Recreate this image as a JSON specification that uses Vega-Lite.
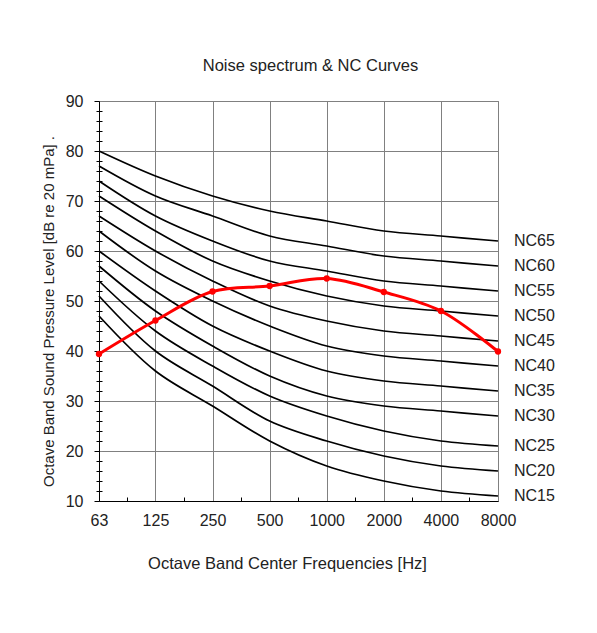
{
  "$schema": "https://vega.github.io/schema/vega-lite/v6.json",
  "width": 399,
  "height": 400,
  "autosize": {"type": "none"},
  "padding": {"left": 99, "top": 101, "right": 99, "bottom": 132},
  "background": "white",
  "config": {
    "font": "Liberation Sans",
    "view": {"stroke": "#808080", "strokeWidth": 1},
    "axis": {
      "labelFont": "Liberation Sans",
      "titleFont": "Liberation Sans",
      "labelColor": "#222222",
      "titleColor": "#222222",
      "labelFontSize": 16,
      "titleFontSize": 16.5,
      "titleFontWeight": "normal",
      "domainColor": "#000000",
      "domainWidth": 1,
      "tickColor": "#000000",
      "gridColor": "#808080",
      "gridOpacity": 1,
      "gridWidth": 1
    }
  },
  "title": {
    "text": "Noise spectrum & NC Curves",
    "font": "Liberation Sans",
    "fontSize": 16.5,
    "fontWeight": "normal",
    "color": "#222222",
    "anchor": "middle",
    "dx": 12,
    "baseline": "alphabetic",
    "offset": 6
  },
  "datasets": {
    "nc": [
      {"curve": "NC15", "freq": 63, "db": 47}, {"curve": "NC15", "freq": 125, "db": 36}, {"curve": "NC15", "freq": 250, "db": 29}, {"curve": "NC15", "freq": 500, "db": 22}, {"curve": "NC15", "freq": 1000, "db": 17}, {"curve": "NC15", "freq": 2000, "db": 14}, {"curve": "NC15", "freq": 4000, "db": 12}, {"curve": "NC15", "freq": 8000, "db": 11},
      {"curve": "NC20", "freq": 63, "db": 51}, {"curve": "NC20", "freq": 125, "db": 40}, {"curve": "NC20", "freq": 250, "db": 33}, {"curve": "NC20", "freq": 500, "db": 26}, {"curve": "NC20", "freq": 1000, "db": 22}, {"curve": "NC20", "freq": 2000, "db": 19}, {"curve": "NC20", "freq": 4000, "db": 17}, {"curve": "NC20", "freq": 8000, "db": 16},
      {"curve": "NC25", "freq": 63, "db": 54}, {"curve": "NC25", "freq": 125, "db": 44}, {"curve": "NC25", "freq": 250, "db": 37}, {"curve": "NC25", "freq": 500, "db": 31}, {"curve": "NC25", "freq": 1000, "db": 27}, {"curve": "NC25", "freq": 2000, "db": 24}, {"curve": "NC25", "freq": 4000, "db": 22}, {"curve": "NC25", "freq": 8000, "db": 21},
      {"curve": "NC30", "freq": 63, "db": 57}, {"curve": "NC30", "freq": 125, "db": 48}, {"curve": "NC30", "freq": 250, "db": 41}, {"curve": "NC30", "freq": 500, "db": 35}, {"curve": "NC30", "freq": 1000, "db": 31}, {"curve": "NC30", "freq": 2000, "db": 29}, {"curve": "NC30", "freq": 4000, "db": 28}, {"curve": "NC30", "freq": 8000, "db": 27},
      {"curve": "NC35", "freq": 63, "db": 60}, {"curve": "NC35", "freq": 125, "db": 52}, {"curve": "NC35", "freq": 250, "db": 45}, {"curve": "NC35", "freq": 500, "db": 40}, {"curve": "NC35", "freq": 1000, "db": 36}, {"curve": "NC35", "freq": 2000, "db": 34}, {"curve": "NC35", "freq": 4000, "db": 33}, {"curve": "NC35", "freq": 8000, "db": 32},
      {"curve": "NC40", "freq": 63, "db": 64}, {"curve": "NC40", "freq": 125, "db": 56}, {"curve": "NC40", "freq": 250, "db": 50}, {"curve": "NC40", "freq": 500, "db": 45}, {"curve": "NC40", "freq": 1000, "db": 41}, {"curve": "NC40", "freq": 2000, "db": 39}, {"curve": "NC40", "freq": 4000, "db": 38}, {"curve": "NC40", "freq": 8000, "db": 37},
      {"curve": "NC45", "freq": 63, "db": 67}, {"curve": "NC45", "freq": 125, "db": 60}, {"curve": "NC45", "freq": 250, "db": 54}, {"curve": "NC45", "freq": 500, "db": 49}, {"curve": "NC45", "freq": 1000, "db": 46}, {"curve": "NC45", "freq": 2000, "db": 44}, {"curve": "NC45", "freq": 4000, "db": 43}, {"curve": "NC45", "freq": 8000, "db": 42},
      {"curve": "NC50", "freq": 63, "db": 71}, {"curve": "NC50", "freq": 125, "db": 64}, {"curve": "NC50", "freq": 250, "db": 58}, {"curve": "NC50", "freq": 500, "db": 54}, {"curve": "NC50", "freq": 1000, "db": 51}, {"curve": "NC50", "freq": 2000, "db": 49}, {"curve": "NC50", "freq": 4000, "db": 48}, {"curve": "NC50", "freq": 8000, "db": 47},
      {"curve": "NC55", "freq": 63, "db": 74}, {"curve": "NC55", "freq": 125, "db": 67}, {"curve": "NC55", "freq": 250, "db": 62}, {"curve": "NC55", "freq": 500, "db": 58}, {"curve": "NC55", "freq": 1000, "db": 56}, {"curve": "NC55", "freq": 2000, "db": 54}, {"curve": "NC55", "freq": 4000, "db": 53}, {"curve": "NC55", "freq": 8000, "db": 52},
      {"curve": "NC60", "freq": 63, "db": 77}, {"curve": "NC60", "freq": 125, "db": 71}, {"curve": "NC60", "freq": 250, "db": 67}, {"curve": "NC60", "freq": 500, "db": 63}, {"curve": "NC60", "freq": 1000, "db": 61}, {"curve": "NC60", "freq": 2000, "db": 59}, {"curve": "NC60", "freq": 4000, "db": 58}, {"curve": "NC60", "freq": 8000, "db": 57},
      {"curve": "NC65", "freq": 63, "db": 80}, {"curve": "NC65", "freq": 125, "db": 75}, {"curve": "NC65", "freq": 250, "db": 71}, {"curve": "NC65", "freq": 500, "db": 68}, {"curve": "NC65", "freq": 1000, "db": 66}, {"curve": "NC65", "freq": 2000, "db": 64}, {"curve": "NC65", "freq": 4000, "db": 63}, {"curve": "NC65", "freq": 8000, "db": 62}
    ],
    "spectrum": [
      {"freq": 63, "db": 39.4},
      {"freq": 125, "db": 46.1},
      {"freq": 250, "db": 51.9},
      {"freq": 500, "db": 53.0},
      {"freq": 1000, "db": 54.5},
      {"freq": 2000, "db": 51.8},
      {"freq": 4000, "db": 48.0},
      {"freq": 8000, "db": 39.9}
    ]
  },
  "layer": [
    {
      "data": {"name": "nc"},
      "mark": {"type": "line", "interpolate": "catmull-rom", "color": "#000000", "strokeWidth": 1.7},
      "encoding": {
        "x": {
          "field": "freq", "type": "quantitative",
          "scale": {"type": "log", "domain": [63, 8000], "nice": false},
          "axis": {
            "orient": "bottom",
            "values": [63, 125, 250, 500, 1000, 2000, 4000, 8000],
            "format": "d",
            "grid": true,
            "ticks": false,
            "labelPadding": 11,
            "labelFlush": false,
            "labelOverlap": false,
            "title": "Octave Band Center Frequencies [Hz]",
            "titleX": 188,
            "titleY": 67,
            "titleAlign": "center",
            "titleBaseline": "alphabetic"
          }
        },
        "y": {
          "field": "db", "type": "quantitative",
          "scale": {"domain": [10, 90], "nice": false, "zero": false},
          "axis": {
            "orient": "left",
            "values": [10, 20, 30, 40, 50, 60, 70, 80, 90],
            "grid": true,
            "tickSize": 5,
            "labelPadding": 11,
            "labelFlush": false,
            "labelOverlap": false,
            "title": "Octave Band Sound Pressure Level [dB re 20 mPa] .",
            "titleFontSize": 15,
            "titleAngle": -90,
            "titleX": -46,
            "titleY": 210,
            "titleAlign": "center",
            "titleBaseline": "alphabetic"
          }
        },
        "detail": {"field": "curve", "type": "nominal"}
      }
    },
    {
      "data": {"name": "nc"},
      "transform": [{"filter": "datum.freq == 8000"}],
      "mark": {"type": "text", "align": "left", "baseline": "middle", "dx": 16, "fontSize": 16, "font": "Liberation Sans", "color": "#222222"},
      "encoding": {
        "x": {
          "field": "freq", "type": "quantitative",
          "axis": {
            "orient": "bottom",
            "values": [88.7, 176.8, 353.6, 707.1, 1414.2, 2828.4, 5656.9],
            "labels": false,
            "grid": false,
            "domain": false,
            "tickSize": 4,
            "offset": -4,
            "title": null
          }
        },
        "y": {
          "field": "db", "type": "quantitative",
          "axis": {
            "orient": "left",
            "values": [12, 14, 16, 18, 22, 24, 26, 28, 32, 34, 36, 38, 42, 44, 46, 48, 52, 54, 56, 58, 62, 64, 66, 68, 72, 74, 76, 78, 82, 84, 86, 88],
            "labels": false,
            "grid": false,
            "domain": false,
            "tickSize": 6,
            "offset": -3,
            "title": null
          }
        },
        "text": {"field": "curve", "type": "nominal"}
      }
    },
    {
      "data": {"name": "spectrum"},
      "mark": {
        "type": "line",
        "interpolate": "catmull-rom",
        "color": "#ff0000",
        "strokeWidth": 3,
        "point": {"filled": true, "size": 40, "color": "#ff0000", "opacity": 1}
      },
      "encoding": {
        "x": {"field": "freq", "type": "quantitative", "axis": null},
        "y": {"field": "db", "type": "quantitative", "axis": null}
      }
    }
  ],
  "resolve": {"axis": {"x": "independent", "y": "independent"}}
}
